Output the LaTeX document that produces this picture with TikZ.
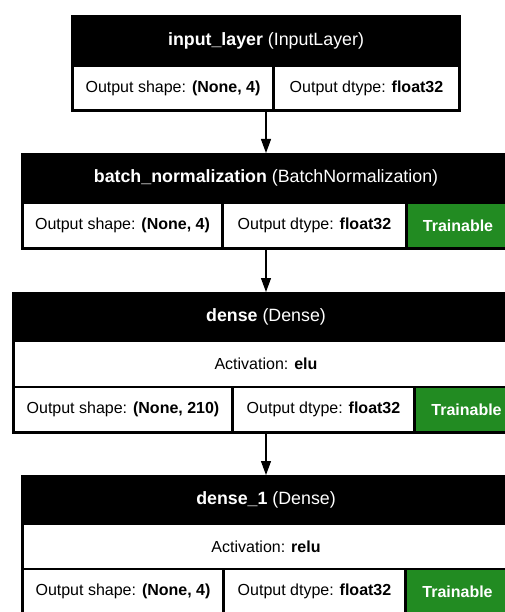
\documentclass[tikz,border=0pt]{standalone}
\usepackage{fontspec}
\setmainfont{Liberation Sans}
\usetikzlibrary{arrows.meta}
\definecolor{trgreen}{HTML}{228B22}
\begin{document}
\begin{tikzpicture}[x=1pt,y=-1pt,
  blk/.style={draw=none,fill=black,inner sep=0pt,outer sep=0pt,rectangle},
  hdr/.style={text=white,inner sep=0pt,font=\fontsize{17.8}{21}\selectfont},
  cellw/.style={fill=white,inner sep=0pt,outer sep=0pt,rectangle,font=\fontsize{16}{19}\selectfont},
  cellg/.style={fill=trgreen,text=white,inner sep=0pt,outer sep=0pt,rectangle,font=\fontsize{16}{19}\selectfont\bfseries},
  conn/.style={line width=1.2pt,-{Triangle[length=14pt,width=10pt]}}]
\useasboundingbox (0,0) rectangle (505,612);
\clip (0,0) rectangle (505,612);
% block 1
\node[blk,minimum width=390pt,minimum height=97pt] (blk1) at (266,63.5) {};
\node[hdr] (h1) at (266,41) {\textbf{input\_layer} (InputLayer)};
\node[cellw,minimum width=198pt,minimum height=42pt] (b1s) at (173,88) {Output shape: \textbf{(None, 4)}};
\node[cellw,minimum width=183pt,minimum height=42pt] (b1d) at (366.5,88) {Output dtype: \textbf{float32}};
% block 2
\node[blk,minimum width=490pt,minimum height=97pt] (blk2) at (266,201.5) {};
\node[hdr] (h2) at (266,178) {\textbf{batch\_normalization} (BatchNormalization)};
\node[cellw,minimum width=197pt,minimum height=43pt] (b2s) at (122.5,225.5) {Output shape: \textbf{(None, 4)}};
\node[cellw,minimum width=181pt,minimum height=43pt] (b2d) at (314.5,225.5) {Output dtype: \textbf{float32}};
\node[cellg,minimum width=100pt,minimum height=43pt] (b2t) at (458,225.5) {Trainable};
% block 3
\node[blk,minimum width=508pt,minimum height=142pt] (blk3) at (266,363) {};
\node[hdr] (h3) at (266,317) {\textbf{dense} (Dense)};
\node[cellw,minimum width=502pt,minimum height=44pt] (b3a) at (266,364) {Activation: \textbf{elu}};
\node[cellw,minimum width=216pt,minimum height=43pt] (b3s) at (123,409.5) {Output shape: \textbf{(None, 210)}};
\node[cellw,minimum width=179pt,minimum height=43pt] (b3d) at (323.5,409.5) {Output dtype: \textbf{float32}};
\node[cellg,minimum width=101pt,minimum height=43pt] (b3t) at (466.5,409.5) {Trainable};
% block 4
\node[blk,minimum width=490pt,minimum height=142pt] (blk4) at (266,546) {};
\node[hdr] (h4) at (266,500) {\textbf{dense\_1} (Dense)};
\node[cellw,minimum width=484pt,minimum height=43pt] (b4a) at (266,546.5) {Activation: \textbf{relu}};
\node[cellw,minimum width=198pt,minimum height=43pt] (b4s) at (123,591.5) {Output shape: \textbf{(None, 4)}};
\node[cellw,minimum width=179pt,minimum height=43pt] (b4d) at (314.5,591.5) {Output dtype: \textbf{float32}};
\node[cellg,minimum width=101pt,minimum height=43pt] (b4t) at (457.5,591.5) {Trainable};
% connectors
\draw[conn] (blk1.south) -- (blk2.north);
\draw[conn] (blk2.south) -- (blk3.north);
\draw[conn] (blk3.south) -- (blk4.north);
\end{tikzpicture}
\end{document}
